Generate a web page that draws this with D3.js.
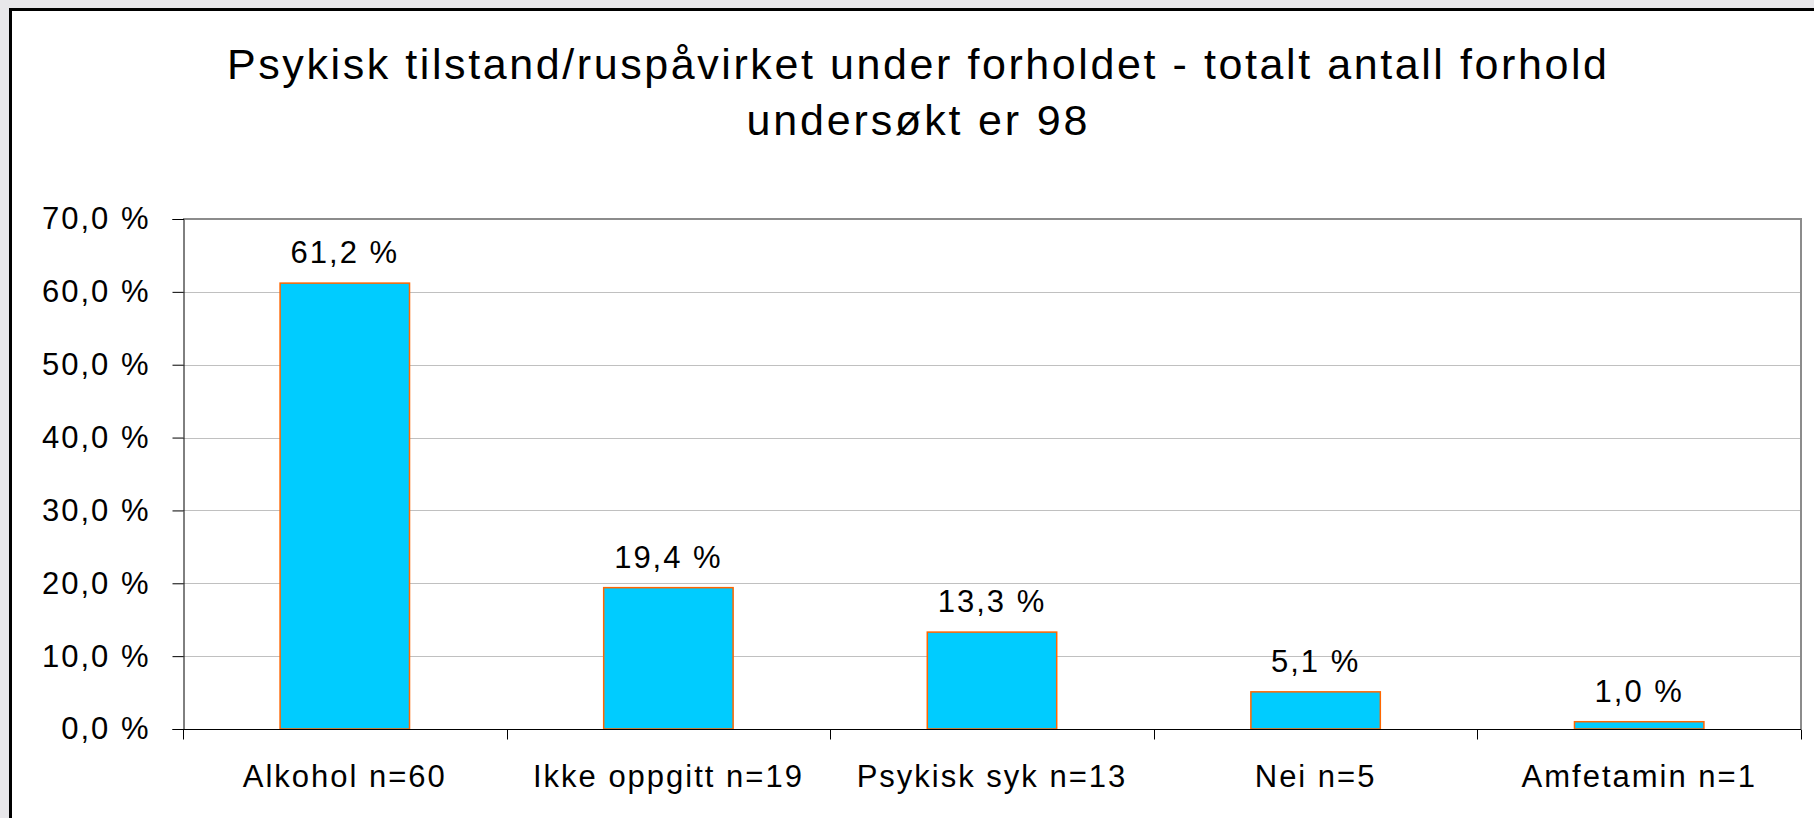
<!DOCTYPE html>
<html>
<head>
<meta charset="utf-8">
<script src="https://cdn.jsdelivr.net/npm/d3@7"></script>
<style>
    body { margin: 0; background: #e8e7ea; }
    svg { display: block; }
    text { font-family: "Liberation Sans", Arial, sans-serif; fill: #000; }
</style>
</head>
<body>
<div id="chart"></div>
<script>
const categories = ["Alkohol n=60", "Ikke oppgitt n=19", "Psykisk syk n=13", "Nei n=5", "Amfetamin n=1"];
const values = [61.2, 19.4, 13.3, 5.1, 1.0];
const yTicks = [0, 10, 20, 30, 40, 50, 60, 70];
const titleLines = ["Psykisk tilstand/ruspåvirket under forholdet - totalt antall forhold", "undersøkt er 98"];

const width = 1814;
const height = 818;
const plot = { left: 183, right: 1801, top: 219, bottom: 729 };

const svg = d3.select("#chart").append("svg")
    .attr("width", width)
    .attr("height", height);

// chart frame (runs off the right and bottom edges)
svg.append("rect")
    .attr("x", 10.5)
    .attr("y", 9.5)
    .attr("width", width + 20)
    .attr("height", height + 20)
    .attr("fill", "#fff")
    .attr("stroke", "#000")
    .attr("stroke-width", 3);

// title
svg.append("text")
    .attr("x", 917)
    .attr("y", 79)
    .attr("text-anchor", "middle")
    .attr("font-size", 43)
    .attr("textLength", 1380)
    .attr("lengthAdjust", "spacing")
    .text(titleLines[0]);

svg.append("text")
    .attr("x", 917)
    .attr("y", 135)
    .attr("text-anchor", "middle")
    .attr("font-size", 43)
    .attr("textLength", 341)
    .attr("lengthAdjust", "spacing")
    .text(titleLines[1]);

const x = d3.scaleBand()
    .domain(categories)
    .range([plot.left, plot.right])
    .paddingInner(0.6)
    .paddingOuter(0.3);

const y = d3.scaleLinear()
    .domain([0, 70])
    .range([plot.bottom, plot.top]);

// gridlines
svg.append("g")
    .selectAll("line")
    .data(yTicks.filter(t => t > 0 && t < 70))
    .join("line")
    .attr("x1", plot.left)
    .attr("x2", plot.right)
    .attr("y1", d => Math.round(y(d)) + 0.5)
    .attr("y2", d => Math.round(y(d)) + 0.5)
    .attr("stroke", "#c0c0c0")
    .attr("stroke-width", 1);

// plot area border (top and right)
svg.append("path")
    .attr("d", `M${plot.left},${plot.top} H${plot.right} V${plot.bottom}`)
    .attr("fill", "none")
    .attr("stroke", "#8c8c8c")
    .attr("stroke-width", 2);

// bars
svg.append("g")
    .selectAll("rect")
    .data(values)
    .join("rect")
    .attr("x", (d, i) => x(categories[i]))
    .attr("y", d => y(d))
    .attr("width", x.bandwidth())
    .attr("height", d => y(0) - y(d))
    .attr("fill", "#00ccff")
    .attr("stroke", "#ff6600")
    .attr("stroke-width", 1.5);

// value labels
const fmt = d3.format(".1f");
svg.append("g")
    .selectAll("text")
    .data(values)
    .join("text")
    .attr("x", (d, i) => x(categories[i]) + x.bandwidth() / 2)
    .attr("y", d => y(d) - 20)
    .attr("text-anchor", "middle")
    .attr("font-size", 31)
    .attr("letter-spacing", 2)
    .text(d => fmt(d).replace(".", ",") + " %");

// y axis
const yAxis = svg.append("g")
    .attr("transform", `translate(${plot.left + 0.5},0)`)
    .call(d3.axisLeft(y)
        .tickValues(yTicks)
        .tickSize(11)
        .tickPadding(22)
        .tickFormat(d => fmt(d).replace(".", ",") + " %"));
yAxis.select(".domain").attr("stroke", "#000");
yAxis.selectAll(".tick line").attr("stroke", "#000");
yAxis.selectAll(".tick text")
    .attr("font-size", 31)
    .attr("letter-spacing", 2)
    .attr("font-family", "Liberation Sans, Arial, sans-serif");

// x axis: labels centred under bars, ticks on category boundaries
const xAxis = svg.append("g")
    .attr("transform", `translate(0,${plot.bottom + 0.5})`)
    .call(d3.axisBottom(x).tickSize(0).tickSizeOuter(0));
xAxis.select(".domain")
    .attr("stroke", "#000")
    .attr("d", `M${plot.left},0H${plot.right}`);
xAxis.selectAll(".tick text")
    .attr("y", 57)
    .attr("dy", 0)
    .attr("font-size", 31)
    .attr("letter-spacing", 2)
    .attr("font-family", "Liberation Sans, Arial, sans-serif");

const boundaries = categories.map(c => x(c) - x.step() * x.paddingOuter())
    .concat([plot.right]);
xAxis.append("g")
    .selectAll("line")
    .data(boundaries)
    .join("line")
    .attr("x1", d => Math.round(d) + 0.5)
    .attr("x2", d => Math.round(d) + 0.5)
    .attr("y1", 0)
    .attr("y2", 10)
    .attr("stroke", "#000");
</script>
</body>
</html>
